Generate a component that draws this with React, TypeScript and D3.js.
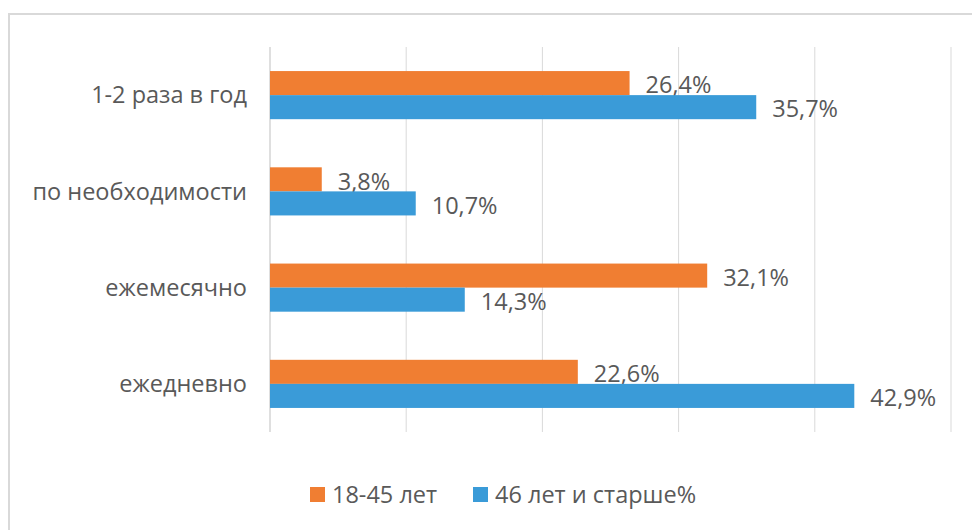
import React, { useEffect, useRef } from 'react';
import * as d3 from 'd3';

const categories = ['1-2 раза в год', 'по необходимости', 'ежемесячно', 'ежедневно'];
const seriesNames = ['18-45 лет', '46 лет и старше%'];
const young = [26.4, 3.8, 32.1, 22.6];
const older = [35.7, 10.7, 14.3, 42.9];
const gridTicks = [0, 10, 20, 30, 40, 50];
const colors = ['#F07E32', '#3A9BD8'];

const fmt = (v: number) => v.toFixed(1).replace('.', ',') + '%';

const App = () => {
    const ref = useRef<SVGSVGElement>(null);

    useEffect(() => {
        const svg = d3.select(ref.current);
        svg.selectAll('*').remove();

        const font = '"Open Sans", "Noto Sans", sans-serif';
        const textColor = '#595959';
        const fs = 23.5;

        // chart frame
        svg.append('rect')
            .attr('x', 9)
            .attr('y', 14)
            .attr('width', 990)
            .attr('height', 560)
            .attr('fill', '#fff')
            .attr('stroke', '#d9d9d9')
            .attr('stroke-width', 2);

        const x = d3.scaleLinear().domain([0, 50]).range([270, 951]);
        const y = d3.scaleBand<string>()
            .domain(categories)
            .range([47, 432])
            .paddingInner(0.5)
            .paddingOuter(0.25);
        const sub = d3.scaleBand<string>()
            .domain(seriesNames)
            .range([0, y.bandwidth()]);

        svg.append('g')
            .selectAll('line')
            .data(gridTicks)
            .enter()
            .append('line')
            .attr('x1', d => x(d))
            .attr('x2', d => x(d))
            .attr('y1', 47)
            .attr('y2', 432)
            .attr('stroke', d => (d === 0 ? '#bfbfbf' : '#d9d9d9'))
            .attr('stroke-width', 1);

        // category labels
        svg.append('g')
            .selectAll('text')
            .data(categories)
            .enter()
            .append('text')
            .attr('x', 247)
            .attr('y', d => (y(d) as number) + y.bandwidth() / 2)
            .attr('dy', '0.35em')
            .attr('text-anchor', 'end')
            .attr('font-family', font)
            .attr('font-size', fs)
            .attr('fill', textColor)
            .text(d => d);

        const series = [young, older];
        series.forEach((vals, si) => {
            const rows = categories.map((c, i) => ({ c, v: vals[i] }));
            const g = svg.append('g');
            g.selectAll('rect')
                .data(rows)
                .enter()
                .append('rect')
                .attr('x', x(0))
                .attr('y', d => (y(d.c) as number) + (sub(seriesNames[si]) as number))
                .attr('width', d => x(d.v) - x(0))
                .attr('height', sub.bandwidth())
                .attr('fill', colors[si]);
            g.selectAll('text')
                .data(rows)
                .enter()
                .append('text')
                .attr('x', d => x(d.v) + 16)
                .attr('y', d => (y(d.c) as number) + (sub(seriesNames[si]) as number) + sub.bandwidth() / 2 + 2)
                .attr('dy', '0.35em')
                .attr('font-family', font)
                .attr('font-size', fs)
                .attr('fill', textColor)
                .text(d => fmt(d.v));
        });

        // legend
        const legendX = [310, 473];
        const legend = svg.append('g');
        legend.selectAll('rect')
            .data(seriesNames)
            .enter()
            .append('rect')
            .attr('x', (d, i) => legendX[i])
            .attr('y', 487)
            .attr('width', 15)
            .attr('height', 15)
            .attr('fill', (d, i) => colors[i]);
        legend.selectAll('text')
            .data(seriesNames)
            .enter()
            .append('text')
            .attr('x', (d, i) => legendX[i] + 22)
            .attr('y', 495)
            .attr('dy', '0.35em')
            .attr('font-family', font)
            .attr('font-size', fs)
            .attr('fill', textColor)
            .text(d => d);
    }, []);

    return (
        <svg
            ref={ref}
            width={972}
            height={530}
            style={{ position: 'absolute', left: 0, top: 0, display: 'block' }}
        />
    );
};

export default App;
